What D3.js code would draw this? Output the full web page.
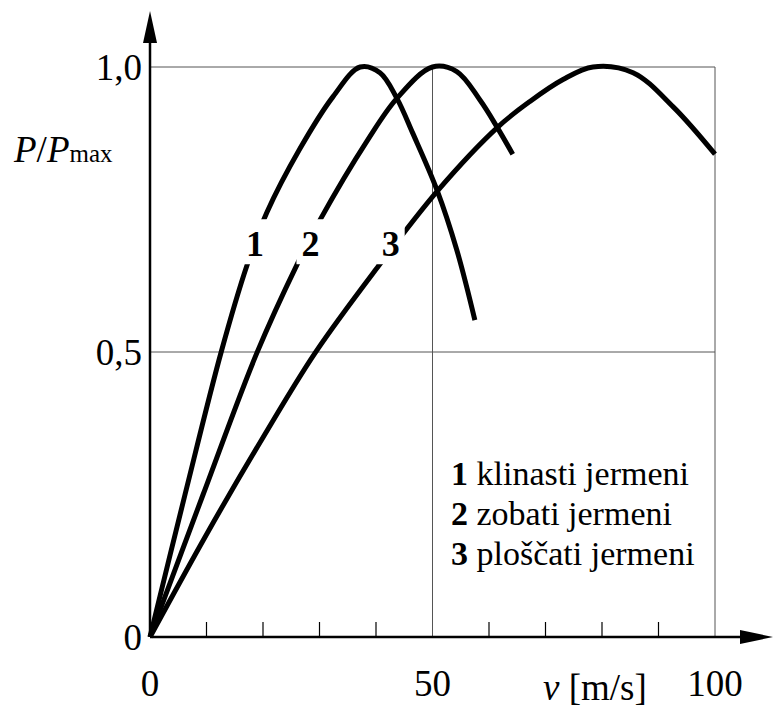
<!DOCTYPE html>
<html>
<head>
<meta charset="UTF-8" />
<script src="https://cdn.jsdelivr.net/npm/d3@7"></script>
</head>
<body style="margin:0">
<svg width="773" height="707"></svg>
<script>
// krivulje [v, P/Pmax], odčitano s slike
var klinasti = [
    [0, 0], [6.2, 0.25], [12.6, 0.5], [17.2, 0.653], [20.7, 0.745],
    [26.5, 0.856], [32.4, 0.948], [37.2, 1.0], [40.7, 0.99], [43.7, 0.945],
    [46.5, 0.884], [50.8, 0.784], [54.3, 0.679], [57.5, 0.556]
];
var zobati = [
    [0, 0], [9.4, 0.25], [18.9, 0.498], [26, 0.653], [30, 0.73],
    [38.4, 0.87], [43.7, 0.945], [50, 1.0], [54.3, 0.992], [58.4, 0.942],
    [61.4, 0.895], [64.2, 0.847]
];
var ploscati = [
    [0, 0], [10, 0.18], [20, 0.35], [29.2, 0.498], [40, 0.645],
    [51, 0.784], [61.6, 0.895], [67.3, 0.94], [73.1, 0.978], [78.4, 1.0],
    [85.5, 0.99], [92.6, 0.93], [100, 0.847]
];
var series = [klinasti, zobati, ploscati];

var xTicks = [0, 50, 100];
var xMinor = [10, 20, 30, 40, 60, 70, 80, 90];
var yTicks = [0, 0.5, 1.0];
var yTickLabels = ['0', '0,5', '1,0'];

// oznake krivulj: [v, P/Pmax] kjer stoji številka
var curveLabels = ['1', '2', '3'];
var curveLabelPos = [[18.6, 0.668], [28.4, 0.668], [42.6, 0.668]];

var legendNums = ['1', '2', '3'];
var legendTexts = ['klinasti jermeni', 'zobati jermeni', 'ploščati jermeni'];

var FONT = '"Liberation Serif", "Times New Roman", Tinos, "Noto Serif CJK SC", "Noto Serif", serif';

var svg = d3.select('svg');

var x = d3.scaleLinear().domain([0, 100]).range([150, 715]);
var y = d3.scaleLinear().domain([0, 1]).range([637, 67]);

// mreža
var grid = svg.append('g').attr('stroke', '#555').attr('stroke-width', 1);
grid.selectAll('line.h').data([0.5, 1.0]).enter().append('line')
    .attr('x1', x(0)).attr('x2', x(100))
    .attr('y1', d => y(d)).attr('y2', d => y(d));
grid.selectAll('line.v').data([50, 100]).enter().append('line')
    .attr('x1', d => x(d)).attr('x2', d => x(d))
    .attr('y1', y(0)).attr('y2', y(1));

// manjše oznake na osi x
svg.append('g').attr('stroke', '#000').attr('stroke-width', 1.2)
    .selectAll('line').data(xMinor).enter().append('line')
    .attr('x1', d => x(d)).attr('x2', d => x(d))
    .attr('y1', y(0)).attr('y2', y(0) - 15);

// osi s puščicama
var ax = svg.append('g');
ax.append('line')
    .attr('x1', x(0)).attr('y1', y(0)).attr('x2', 745).attr('y2', y(0))
    .attr('stroke', '#000').attr('stroke-width', 2.5);
ax.append('path')
    .attr('d', 'M773,' + y(0) + ' L740,' + (y(0) - 7) + ' L740,' + (y(0) + 7) + 'Z')
    .attr('fill', '#000');
ax.append('line')
    .attr('x1', x(0)).attr('y1', y(0)).attr('x2', x(0)).attr('y2', 40)
    .attr('stroke', '#000').attr('stroke-width', 2.5);
ax.append('path')
    .attr('d', 'M' + x(0) + ',11 L' + (x(0) - 7) + ',43 L' + (x(0) + 7) + ',43Z')
    .attr('fill', '#000');

// krivulje
var line = d3.line()
    .x(d => x(d[0]))
    .y(d => y(d[1]))
    .curve(d3.curveCatmullRom.alpha(0.5));

svg.append('g').selectAll('path').data(series).enter().append('path')
    .attr('d', line)
    .attr('fill', 'none')
    .attr('stroke', '#000')
    .attr('stroke-width', 5);

// številke na krivuljah, z belim ozadjem
var cl = svg.append('g').selectAll('g').data(curveLabels).enter().append('g');
cl.append('rect')
    .attr('fill', '#fff')
    .attr('x', (d, i) => x(curveLabelPos[i][0]) - 14)
    .attr('y', (d, i) => y(curveLabelPos[i][1]) - 37)
    .attr('width', 28)
    .attr('height', 45);
cl.append('text')
    .attr('x', (d, i) => x(curveLabelPos[i][0]))
    .attr('y', (d, i) => y(curveLabelPos[i][1]))
    .attr('text-anchor', 'middle')
    .attr('font-size', 36)
    .attr('font-weight', 'bold')
    .style('font-family', FONT)
    .text(d => d);

// napisi na oseh
svg.selectAll('text.yt').data(yTicks).enter().append('text')
    .attr('class', 'yt')
    .attr('x', 142)
    .attr('y', d => y(d) + 13)
    .attr('text-anchor', 'end')
    .attr('font-size', 37)
    .style('font-family', FONT)
    .text((d, i) => yTickLabels[i]);

svg.selectAll('text.xt').data(xTicks).enter().append('text')
    .attr('class', 'xt')
    .attr('x', d => x(d))
    .attr('y', 696)
    .attr('text-anchor', 'middle')
    .attr('font-size', 37)
    .style('font-family', FONT)
    .text(d => d);

var yl = svg.append('text').attr('x', 14).attr('y', 162)
    .attr('font-size', 37)
    .style('font-family', FONT);
yl.append('tspan').attr('font-style', 'italic').text('P');
yl.append('tspan').text('/');
yl.append('tspan').attr('font-style', 'italic').text('P');
yl.append('tspan').attr('font-size', 25).text('max');

var xl = svg.append('text').attr('x', 543).attr('y', 700)
    .attr('font-size', 37)
    .style('font-family', FONT);
xl.append('tspan').attr('font-style', 'italic').text('v');
xl.append('tspan').text(' [m/s]');

// legenda
var lg = svg.append('g').selectAll('text').data(legendTexts).enter().append('text')
    .attr('x', 451)
    .attr('y', (d, i) => 485 + i * 40)
    .attr('font-size', 34)
    .style('font-family', FONT);
lg.append('tspan').attr('font-weight', 'bold').text((d, i) => legendNums[i]);
lg.append('tspan').text(d => ' ' + d);
</script>
</body>
</html>
